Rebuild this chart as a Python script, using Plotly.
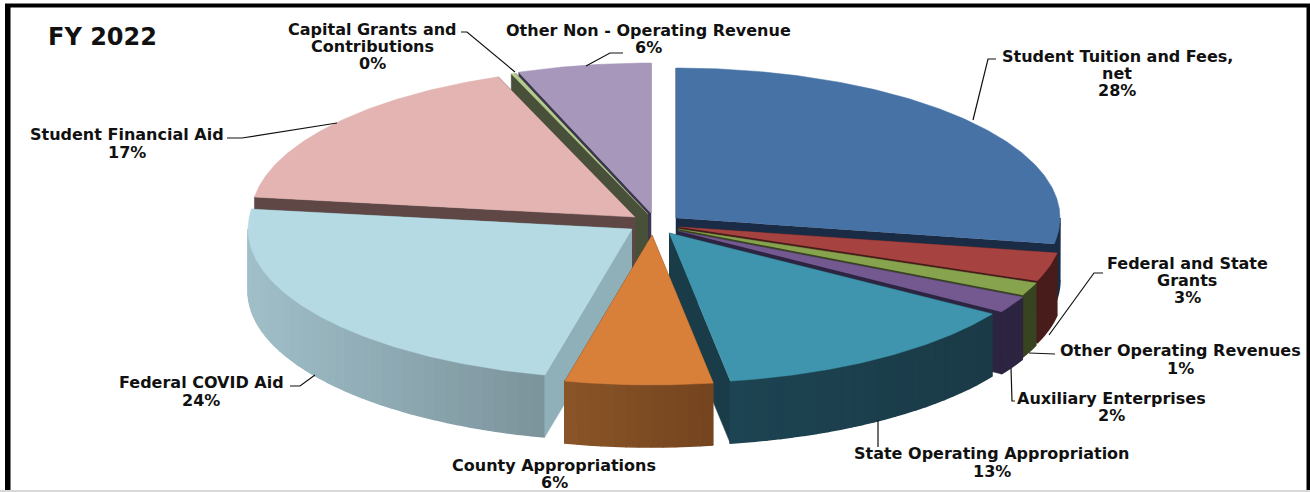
import numpy as np
import plotly.graph_objects as go

# slice shares (%), clockwise from 12 o'clock
categories = [
    "Student Tuition and Fees, net",
    "Federal and State Grants",
    "Other Operating Revenues",
    "Auxiliary Enterprises",
    "State Operating Appropriation",
    "County Appropriations",
    "Federal COVID Aid",
    "Student Financial Aid",
    "Capital Grants and Contributions",
    "Other Non - Operating Revenue",
]
shares = [27.8, 3.1, 1.4, 1.8, 13.4, 6.2, 23.5, 17.1, 0.2, 5.6]

# look of the tilted pie
top_colors = ["#4672a6", "#a64340", "#87a34e", "#73598f", "#3f95ae",
              "#d87f3a", "#b5dae3", "#e3b4b2", "#b6cc8e", "#a797bb"]
wall_colors = ["#1a2c45", "#481c1a", "#384420", "#2c2440", "#1a3c48",
               "#7b4a22", "#8fb0b8", "#5e4745", "#48503a", "#3c3650"]
rim_left = ["#1a2c45", "#481c1a", "#384420", "#2c2440", "#1d4453",
            "#8a5527", "#a0bfc9", "#5e4745", "#48503a", "#3c3650"]
rim_right = ["#1a2c45", "#481c1a", "#384420", "#2c2440", "#1a3a46",
             "#74441f", "#7b939b", "#5e4745", "#48503a", "#3c3650"]
apex_x = [676, 679, 678, 678, 669, 652, 632, 635, 648, 651]
apex_y = [218, 227, 229, 231, 233, 235, 229, 217, 214, 213]
RX, RY, DEPTH = 384, 150, 62
# painter's order, back to front
draw_order = [9, 8, 7, 6, 0, 1, 2, 3, 4, 5]

# label text lines with centre x and y per line
label_lines = [
    ("Capital Grants and", 372, 29), ("Contributions", 372, 46), ("0%", 372, 63),
    ("Other Non - Operating Revenue", 648, 30), ("6%", 648, 47),
    ("Student Tuition and Fees,", 1117, 56), ("net", 1117, 73), ("28%", 1117, 90),
    ("Student Financial Aid", 127, 134), ("17%", 127, 152),
    ("Federal COVID Aid", 201, 382), ("24%", 201, 400),
    ("County Appropriations", 554, 465), ("6%", 554, 482),
    ("State Operating Appropriation", 992, 453), ("13%", 992, 471),
    ("Auxiliary Enterprises", 1111, 398), ("2%", 1111, 415),
    ("Other Operating Revenues", 1180, 350), ("1%", 1180, 368),
    ("Federal and State", 1187, 263), ("Grants", 1187, 280), ("3%", 1187, 297),
]
leaders = [
    ([461, 467, 515], [32, 32, 72]),
    ([623, 610, 586], [53, 53, 66]),
    ([996, 988, 973], [59, 59, 120]),
    ([227, 242, 337], [138, 138, 123]),
    ([290, 300, 315], [386, 386, 375]),
    ([878, 878], [420, 447]),
    ([1011, 1012, 1015], [368, 401, 401]),
    ([1029, 1055], [353, 354]),
    ([1103, 1094, 1049], [273, 273, 335]),
]


def mix(c0, c1, t):
    a = [int(c0[i:i + 2], 16) for i in (1, 3, 5)]
    b = [int(c1[i:i + 2], 16) for i in (1, 3, 5)]
    return "#%02x%02x%02x" % tuple(round(p + (q - p) * t) for p, q in zip(a, b))


def poly(xs, ys, color, width=0.5):
    return go.Scatter(x=list(xs), y=list(ys), mode="lines", fill="toself", fillcolor=color,
                      line=dict(color=color, width=width), hoverinfo="skip", showlegend=False)


def on_disk(i, deg):
    th = np.radians(deg)
    return apex_x[i] + RX * np.sin(th), apex_y[i] - RY * np.cos(th)


fig = go.Figure()

edges = np.cumsum([0] + shares) / sum(shares) * 360
for i in draw_order:
    a0, a1 = edges[i], edges[i + 1]
    # cut faces first, the top hides whichever one faces away
    for a in (a0, a1):
        ex, ey = on_disk(i, a)
        fig.add_trace(poly([apex_x[i], ex, ex, apex_x[i]],
                           [apex_y[i], ey, ey + DEPTH, apex_y[i] + DEPTH], wall_colors[i]))
    # outer rim in small steps so it can carry the gradient
    lo, hi = max(a0, 90), min(a1, 270)
    if hi > lo:
        xa, _ = on_disk(i, hi)
        xb, _ = on_disk(i, lo)
        steps = np.linspace(lo, hi, max(2, int((hi - lo) / 2) + 2))
        for s0, s1 in zip(steps[:-1], steps[1:]):
            arc = np.linspace(s0, s1, 5)
            ax, ay = on_disk(i, arc)
            # colour runs with screen x over the slice's rim
            t = ((ax[0] + ax[-1]) / 2 - xa) / max(xb - xa, 1)
            fig.add_trace(poly(np.r_[ax, ax[::-1]], np.r_[ay, ay[::-1] + DEPTH],
                               mix(rim_left[i], rim_right[i], t), width=1.5))
    arc = np.linspace(a0, a1, max(3, int(a1 - a0) * 2))
    ax, ay = on_disk(i, arc)
    fig.add_trace(poly(np.r_[apex_x[i], ax], np.r_[apex_y[i], ay], top_colors[i]))

for lx, ly in leaders:
    fig.add_trace(go.Scatter(x=lx, y=ly, mode="lines", line=dict(color="#111111", width=1.2),
                             hoverinfo="skip", showlegend=False))

for text, x, y in label_lines:
    fig.add_annotation(x=x, y=y, text="<b>%s</b>" % text, showarrow=False, xanchor="center",
                       yanchor="middle", font=dict(family="DejaVu Sans", size=16, color="#111111"))
fig.add_annotation(x=47, y=37, text="<b>FY 2022</b>", showarrow=False, xanchor="left", yanchor="middle",
                   xshift=-1, font=dict(family="DejaVu Sans", size=24, color="#111111"))

# picture frame: thick black on three sides, thin grey along the bottom
fig.add_shape(type="rect", x0=5, x1=10.5, y0=4, y1=490, fillcolor="#000000", line_width=0, layer="above")
fig.add_shape(type="rect", x0=5, x1=1310, y0=3.5, y1=7.5, fillcolor="#000000", line_width=0, layer="above")
fig.add_shape(type="rect", x0=1306.5, x1=1310, y0=4, y1=490, fillcolor="#000000", line_width=0, layer="above")
fig.add_shape(type="rect", x0=0, x1=1310, y0=490, y1=492, fillcolor="#d8d8d8", line_width=0, layer="above")

fig.update_layout(
    width=1310,
    height=492,
    margin=dict(l=0, r=0, t=0, b=0),
    paper_bgcolor="#ffffff",
    plot_bgcolor="#ffffff",
    showlegend=False,
    xaxis=dict(range=[0, 1310], visible=False),
    yaxis=dict(range=[492, 0], visible=False),
)

fig.write_html("out.html", config=dict(displayModeBar=False),
               post_script="document.body.style.margin='0';")
